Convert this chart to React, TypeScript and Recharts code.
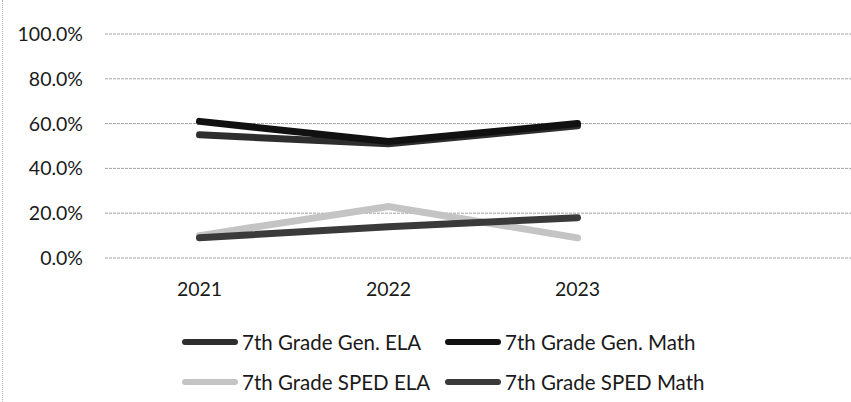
import React from 'react';
import { LineChart, Line, XAxis, YAxis, CartesianGrid, Legend } from 'recharts';

const years = ['2021', '2022', '2023', ''];
const genEla = [0.55, 0.51, 0.59, null];
const genMath = [0.61, 0.52, 0.6, null];
const spedEla = [0.1, 0.23, 0.09, null];
const spedMath = [0.09, 0.14, 0.18, null];
const yTicks = [0, 0.2, 0.4, 0.6, 0.8, 1];

const seriesNames = ['7th Grade Gen. ELA', '7th Grade Gen. Math', '7th Grade SPED ELA', '7th Grade SPED Math'];
const seriesKeys = ['genEla', 'genMath', 'spedEla', 'spedMath'];
const seriesColors = ['#2e2e2e', '#111111', '#c4c4c4', '#3a3a3a'];

const data = years.map((y, i) => ({
  year: y,
  genEla: genEla[i],
  genMath: genMath[i],
  spedEla: spedEla[i],
  spedMath: spedMath[i],
}));

const FONT = 'Lato, "Open Sans", sans-serif';

const legendCols = [182, 445];
const legendRows = [20, 60];

const renderLegend = () => (
  <div style={{ position: 'relative', width: 851, height: 80, fontFamily: FONT, fontSize: 20.5, color: '#1a1a1a' }}>
    {seriesNames.map((name, i) => {
      const left = legendCols[i % 2];
      const cy = legendRows[Math.floor(i / 2)];
      return (
        <div key={name} style={{ position: 'absolute', left, top: cy - 12, height: 24, display: 'flex', alignItems: 'center', whiteSpace: 'nowrap' }}>
          <div style={{ width: 56, height: 6, borderRadius: 3, background: seriesColors[i], marginRight: 4 }} />
          <span>{name}</span>
        </div>
      );
    })}
  </div>
);

export default function App() {
  return (
    <div style={{ position: 'absolute', left: 0, top: 0, width: 851, height: 402, overflow: 'hidden', background: '#fff' }}>
      <div style={{ position: 'absolute', left: 2, top: 0, width: 0, height: 402, borderLeft: '1px dotted #b0b0b0' }} />
      <LineChart width={870} height={402} data={data} margin={{ top: 34, right: 9, left: 0, bottom: 34 }}>
        <CartesianGrid vertical={false} stroke="#a3a3a3" strokeDasharray="3 1" />
        <XAxis
          dataKey="year"
          scale="band"
          axisLine={false}
          tickLine={false}
          tickSize={0}
          tickMargin={24}
          height={30}
          tick={{ fill: '#1a1a1a', fontSize: 19.5, fontFamily: FONT }}
        />
        <YAxis
          domain={[0, 1]}
          ticks={yTicks}
          width={105}
          axisLine={false}
          tickLine={false}
          tickSize={0}
          tickMargin={22}
          tickFormatter={(v: number) => (v * 100).toFixed(1) + '%'}
          tick={{ fill: '#1a1a1a', fontSize: 19.5, fontFamily: FONT }}
        />
        {seriesKeys.map((k, i) => (
          <Line
            key={k}
            dataKey={k}
            name={seriesNames[i]}
            stroke={seriesColors[i]}
            strokeWidth={7}
            strokeLinecap="round"
            dot={false}
            activeDot={false}
            isAnimationActive={false}
          />
        ))}
        <Legend verticalAlign="bottom" content={renderLegend} wrapperStyle={{ left: 0, bottom: 0, width: 851, height: 80 }} />
      </LineChart>
    </div>
  );
}
